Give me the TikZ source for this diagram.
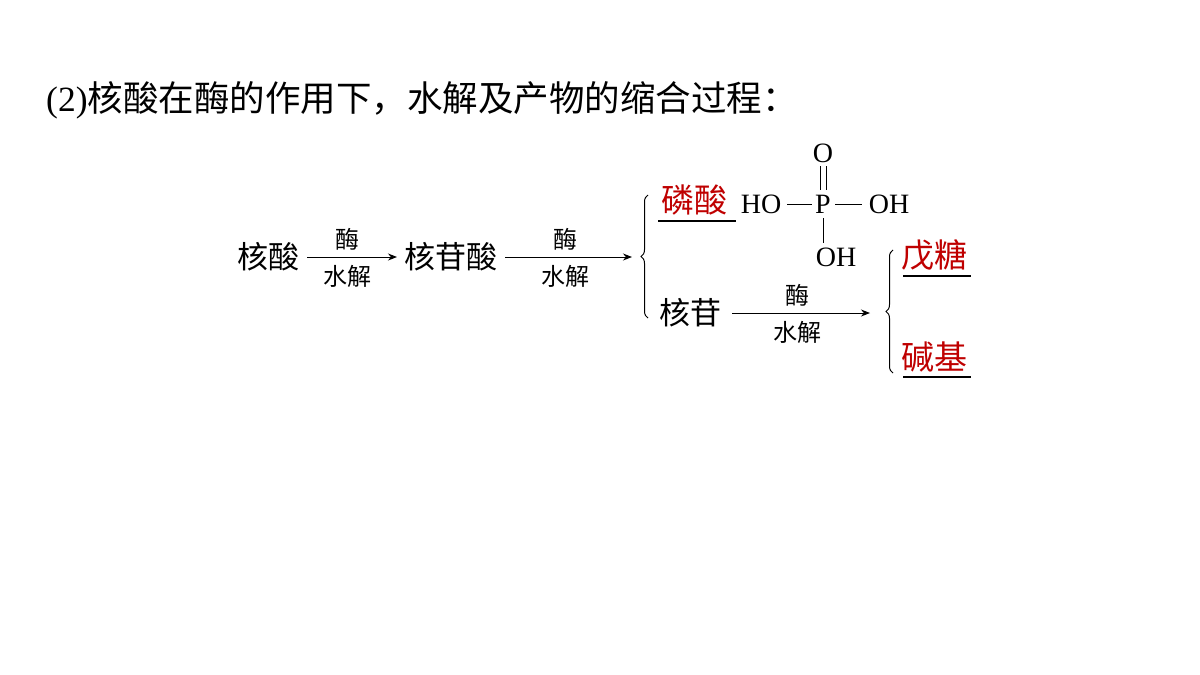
\documentclass[tikz,border=0pt]{standalone}
\usepackage{fontspec}
\setmainfont{Liberation Serif}
\newfontfamily\cjk{Noto Sans CJK SC}
\usetikzlibrary{arrows.meta,decorations.pathreplacing}
\begin{document}
\begin{tikzpicture}[x=1pt,y=-1pt,
  lbl/.style={font=\cjk\fontsize{24}{24}\selectfont,inner sep=0pt},
  big/.style={font=\cjk\fontsize{31}{31}\selectfont,inner sep=0pt},
  red/.style={font=\cjk\fontsize{33}{33}\selectfont,inner sep=0pt,text=red!75!black},
  chem/.style={font=\fontsize{28}{28}\selectfont,inner sep=0pt},
  arr/.style={-{Stealth[length=9pt,width=7pt]},line width=1pt},
  ul/.style={line width=1.2pt},
  bond/.style={line width=0.8pt},
  br/.style={decorate,decoration={brace,amplitude=7pt},line width=1pt}]
\useasboundingbox (0,0) rectangle (1200,675);
\node[anchor=west,inner sep=0pt,font=\fontsize{35.5}{35.5}\selectfont] (title) at (46,100) {(2){\cjk 核酸在酶的作用下，水解及产物的缩合过程：}};
\node[big] (hs) at (268,257) {核酸};
\node[big] (hgs) at (451,257) {核苷酸};
\coordinate (a1s) at (307,257); \coordinate (a1e) at (397,257);
\draw[arr] (a1s) -- (a1e);
\node[lbl] (m1) at (347,239) {酶};
\node[lbl] (s1) at (347,276) {水解};
\coordinate (a2s) at (505,257); \coordinate (a2e) at (632,257);
\draw[arr] (a2s) -- (a2e);
\node[lbl] (m2) at (565,239) {酶};
\node[lbl] (s2) at (565,276) {水解};
\coordinate (b1b) at (648,318); \coordinate (b1t) at (648,195);
\draw[br] (b1b) -- (b1t);
\node[red] (ls) at (694,200) {磷酸};
\coordinate (u1a) at (658,221); \coordinate (u1b) at (736,221);
\draw[ul] (u1a) -- (u1b);
\node[chem] (ho) at (761,204) {HO};
\node[chem] (p) at (823,204) {P};
\node[chem] (oh1) at (889,204) {OH};
\node[chem] (o) at (823,153) {O};
\node[chem] (oh2) at (836,257) {OH};
\coordinate (b1) at (787,204); \coordinate (b2) at (812,204);
\coordinate (b3) at (835,204); \coordinate (b4) at (862,204);
\draw[bond] (b1) -- (b2);
\draw[bond] (b3) -- (b4);
\draw[bond] (820,166) -- (820,190);
\draw[bond] (826,166) -- (826,190);
\draw[bond] (823,218) -- (823,243);
\node[big] (hg) at (690,313) {核苷};
\coordinate (a3s) at (732,313); \coordinate (a3e) at (870,313);
\draw[arr] (a3s) -- (a3e);
\node[lbl] (m3) at (797,295) {酶};
\node[lbl] (s3) at (797,332) {水解};
\coordinate (b2b) at (893,373); \coordinate (b2t) at (893,250);
\draw[br] (b2b) -- (b2t);
\node[red] (wt) at (934,255) {戊糖};
\coordinate (u2a) at (903,276); \coordinate (u2b) at (971,276);
\draw[ul] (u2a) -- (u2b);
\node[red] (jj) at (934,357) {碱基};
\coordinate (u3a) at (903,377); \coordinate (u3b) at (971,377);
\draw[ul] (u3a) -- (u3b);
\end{tikzpicture}
\end{document}
